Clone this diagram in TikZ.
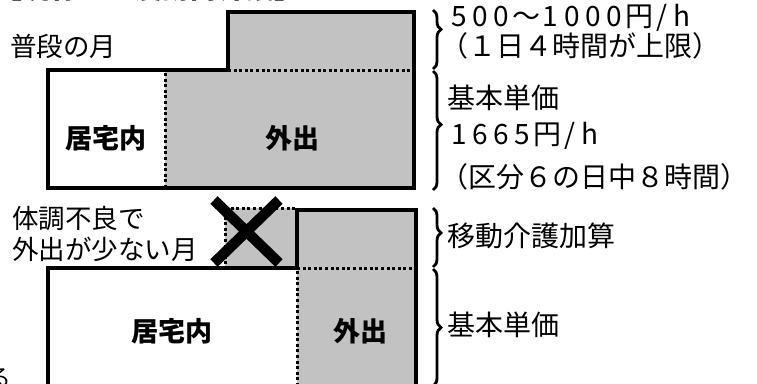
\documentclass[tikz,border=0pt]{standalone}
\usepackage{fontspec}
\setmainfont{Noto Sans CJK JP}
\newfontfamily\heavyfont{Noto Sans CJK JP Black}
\usetikzlibrary{decorations.pathreplacing}
\newcommand\zdig[1]{\makebox[0.76em][c]{#1}}
\newcommand\zph{\makebox[0.65em][c]{/}\makebox[0.75em][c]{h}}
\begin{document}
\begin{tikzpicture}[x=1pt,y=-1pt,
  grayfill/.style={fill=black!24},
  outline/.style={line width=3.4pt, line join=miter},
  dotline/.style={line width=3pt, dash pattern=on 3pt off 2.6pt},
  bracestyle/.style={line width=2.8pt, decorate, decoration={brace, amplitude=8pt, aspect=#1}},
  lbl/.style={font=\fontsize{28}{30}\selectfont, inner sep=0pt, anchor=west},
  llbl/.style={font=\fontsize{26.5}{29}\selectfont, inner sep=0pt, anchor=west},
  blbl/.style={font=\fontsize{27}{30}\selectfont\heavyfont, inner sep=0pt},
  xline/.style={line width=10.5pt}]
\useasboundingbox (0,0) rectangle (757,383);
% title (cut off at top)
\node[font=\fontsize{28}{30}\selectfont\heavyfont, inner sep=0pt, anchor=base west] (title) at (-6,-1.5) {【現行の重度訪問介護】};
% ---------- top chart ----------
\fill[grayfill] (165,70) rectangle (414,188);
\fill[grayfill] (228,12) rectangle (414,70);
\draw[dotline] (228,70) -- (414,70);
\draw[dotline] (165,73) -- (165,188);
\draw[outline] (48,188) -- (48,70) -- (228,70) -- (228,12) -- (414,12) -- (414,188) -- cycle;
\node[llbl] (futsu) at (10,46) {普段の月};
\node[blbl] (kyo1) at (106,138) {居宅内};
\node[blbl] (gai1) at (292,138) {外出};
% braces top
\coordinate (b1t) at (433,10);
\coordinate (b1b) at (433,69);
\coordinate (b2t) at (433,71);
\coordinate (b2b) at (433,190);
\draw[bracestyle=0.33] (b1t) -- (b1b);
\draw[bracestyle=0.45] (b2t) -- (b2b);
\node[lbl] (t1) at (448,18) {\zdig{5}\zdig{0}\zdig{0}～\zdig{1}\zdig{0}\zdig{0}\zdig{0}円\zph};
\node[lbl] (t2) at (440,46) {（１日４時間が上限）};
\node[lbl] (t3) at (447,98) {基本単価};
\node[lbl] (t4) at (448,136) {\zdig{1}\zdig{6}\zdig{6}\zdig{5}円\zph};
\node[lbl] (t5) at (440,177) {（区分６の日中８時間）};
% ---------- bottom chart ----------
\fill[grayfill] (225,208) rectangle (297,268);
\fill[grayfill] (297,210) rectangle (416,268);
\fill[grayfill] (297,268) rectangle (416,386);
\draw[dotline] (225,208) -- (297,208);
\draw[dotline] (225,211) -- (225,266);
\draw[dotline] (297,268) -- (416,268);
\draw[dotline] (297,271) -- (297,386);
\draw[outline] (48,388) -- (48,268) -- (297,268) -- (297,210) -- (416,210) -- (416,388);
\node[llbl] (tai1) at (12,218) {体調不良で};
\node[llbl] (tai2) at (12,249) {外出が少ない月};
\node[blbl] (kyo2) at (172,331) {居宅内};
\node[blbl] (gai2) at (360,331) {外出};
% cross
\coordinate (xa) at (214,200);
\coordinate (xb) at (279,263);
\coordinate (xc) at (279,200);
\coordinate (xd) at (214,263);
\draw[xline] (xa) -- (xb);
\draw[xline] (xc) -- (xd);
% braces bottom
\coordinate (b3t) at (433,208);
\coordinate (b3b) at (433,267);
\coordinate (b4t) at (433,269);
\coordinate (b4b) at (433,386);
\draw[bracestyle=0.42] (b3t) -- (b3b);
\draw[bracestyle=0.5] (b4t) -- (b4b);
\node[lbl] (t6) at (447,236) {移動介護加算};
\node[lbl] (t7) at (447,325) {基本単価};
% cut-off character bottom left
\node[font=\fontsize{25}{28}\selectfont, inner sep=0pt, anchor=north east] (ru) at (12,368) {る};
\end{tikzpicture}
\end{document}
